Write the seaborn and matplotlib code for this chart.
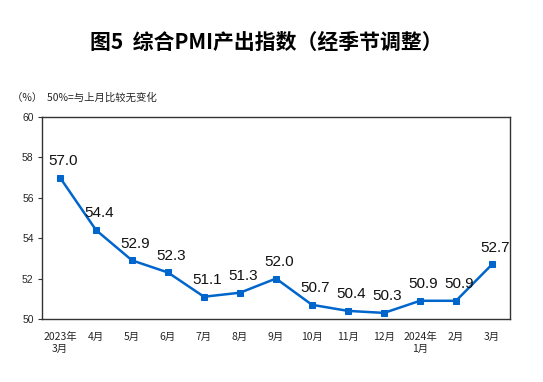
import numpy as np
import pandas as pd
import seaborn as sns
import matplotlib.pyplot as plt

# data
months = ['2023年\n3月', '4月', '5月', '6月', '7月', '8月', '9月',
          '10月', '11月', '12月', '2024年\n1月', '2月', '3月']
pmi_output = [57.0, 54.4, 52.9, 52.3, 51.1, 51.3, 52.0,
              50.7, 50.4, 50.3, 50.9, 50.9, 52.7]
y_ticks = [50, 52, 54, 56, 58, 60]

df = pd.DataFrame({'month': months, 'value': pmi_output})
df['pos'] = np.arange(len(df))

sns.set_style('white')
plt.rcParams['font.family'] = ['Liberation Sans', 'Noto Sans CJK SC', 'DejaVu Sans']

fig = plt.figure(figsize=(5.43, 3.82), dpi=100)
ax = fig.add_axes([0.0773, 0.165, 0.862, 0.529])

blue = '#0066CC'
sns.lineplot(data=df, x='pos', y='value', ax=ax, color=blue, linewidth=1.8,
             marker='s', markersize=5, markeredgecolor=blue)

for x, v in zip(df['pos'], df['value']):
    ax.annotate(f'{v:.1f}', (x, v), xytext=(2, 7), textcoords='offset points',
                ha='center', va='bottom', fontsize=11, color='#111111')

ax.set_xlim(-0.5, len(df) - 0.5)
ax.set_ylim(50, 60)
ax.set_yticks(y_ticks)
ax.set_yticklabels([str(t) for t in y_ticks], fontsize=7.5)
ax.set_xticks(df['pos'])
ax.set_xticklabels(months, fontsize=7.5, family=['Noto Sans CJK SC', 'DejaVu Sans'],
                   linespacing=1.3)
ax.tick_params(axis='x', length=0, pad=9)
ax.set_xticks(np.arange(len(df) + 1) - 0.5, minor=True)
ax.tick_params(axis='x', which='minor', direction='in', length=4, color='#333333')
ax.tick_params(axis='y', direction='out', length=3, color='#333333', left=True, pad=3)
ax.set_xlabel('')
ax.set_ylabel('')
for s in ax.spines.values():
    s.set_color('#333333')
    s.set_linewidth(1)

fig.text(0.49, 0.89, '图5  综合PMI产出指数（经季节调整）', ha='center', va='center',
         fontsize=15, fontweight='bold', color='black',
         family=['Noto Sans CJK SC', 'DejaVu Sans'])
fig.text(0.022, 0.745, '（%）  50%=与上月比较无变化', ha='left', va='center',
         fontsize=7.5, family=['Noto Sans CJK SC', 'DejaVu Sans'])

fig.savefig('out.png', dpi=100)
